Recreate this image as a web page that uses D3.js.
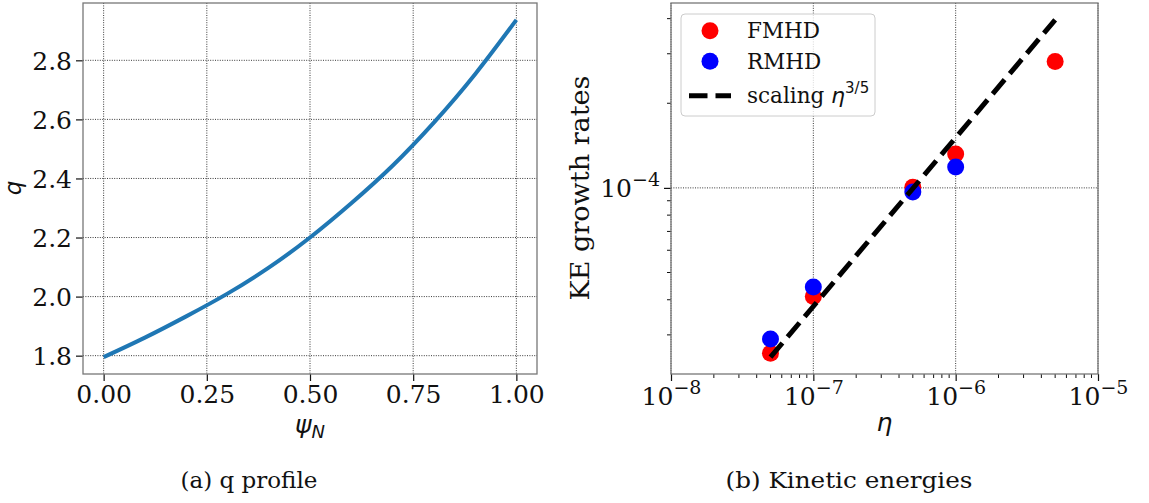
<!DOCTYPE html>
<html><head><meta charset="utf-8">
<script src="https://cdn.jsdelivr.net/npm/d3@7"></script>
<style>
body{margin:0;background:#fff}
svg text{font-family:'DejaVu Serif',serif;fill:#111}
.math{font-family:'DejaVu Sans',sans-serif;font-style:italic}
</style>
</head><body>
<svg id="c" width="1149" height="503"></svg>
<script>
// ---------- data ----------
const psiN = [0, 0.1, 0.2, 0.3, 0.4, 0.5, 0.6, 0.7, 0.8, 0.9, 1.0];
const qProfile = [1.795, 1.861, 1.933, 2.010, 2.098, 2.200, 2.316, 2.443, 2.589, 2.753, 2.937];
const psiTicks = [0, 0.25, 0.5, 0.75, 1.0];
const qTicks = [1.8, 2.0, 2.2, 2.4, 2.6, 2.8];

const etaF = [5e-8, 1e-7, 5e-7, 1e-6, 5e-6];
const fmhd = [2.58e-5, 4.11e-5, 1.006e-4, 1.319e-4, 2.818e-4];
const etaR = [5e-8, 1e-7, 5e-7, 1e-6];
const rmhd = [2.90e-5, 4.44e-5, 9.67e-5, 1.186e-4];
const etaScaling = [5e-8, 5e-6];
const scaling = [2.50e-5, 3.96e-4];
const etaTicks = [1e-8, 1e-7, 1e-6, 1e-5];
const etaTickExp = ["8", "7", "6", "5"];
const keTicks = [1e-4];
const keTickExp = ["4"];
const legendLabels = ["FMHD", "RMHD", "scaling "];
const captions = ["(a) q profile", "(b) Kinetic energies"];

// ---------- layout ----------
const svg = d3.select("#c");
const TOP = 3, BOT = 374;
const TICK = 7, MINOR = 4;
const spineCol = "#777";
const TFS = "25px";

function pad(ext, f){ const d = (ext[1]-ext[0])*f; return [ext[0]-d, ext[1]+d]; }

// ======== Panel (a) ========
const xa = d3.scaleLinear().domain(pad(d3.extent(psiN), 0.05)).range([83, 537]);
const ya = d3.scaleLinear().domain(pad(d3.extent(qProfile), 0.05)).range([BOT, TOP]);
const ga = svg.append("g");

ga.selectAll(".gx").data(psiTicks).join("line")
  .attr("x1", d=>xa(d)).attr("x2", d=>xa(d)).attr("y1", TOP).attr("y2", BOT)
  .attr("stroke", "#222").attr("stroke-width", 0.9).attr("stroke-dasharray", "1,1.4");
ga.selectAll(".gy").data(qTicks).join("line")
  .attr("x1", 83).attr("x2", 537).attr("y1", d=>ya(d)).attr("y2", d=>ya(d))
  .attr("stroke", "#222").attr("stroke-width", 0.9).attr("stroke-dasharray", "1,1.4");

ga.append("path").datum(psiN.map((p,i)=>[p, qProfile[i]]))
  .attr("fill", "none").attr("stroke", "#1f77b4").attr("stroke-width", 4)
  .attr("d", d3.line().x(d=>xa(d[0])).y(d=>ya(d[1])).curve(d3.curveNatural));

const axA = d3.axisBottom(xa).tickValues(psiTicks).tickSize(TICK).tickPadding(4).tickFormat(d3.format(".2f"));
const gAx = ga.append("g").attr("transform", `translate(0,${BOT})`).call(axA);
const ayA = d3.axisLeft(ya).tickValues(qTicks).tickSize(TICK).tickPadding(4).tickFormat(d3.format(".1f"));
const gAy = ga.append("g").attr("transform", `translate(83,0)`).call(ayA);
[gAx, gAy].forEach(g=>{
  g.select(".domain").remove();
  g.selectAll(".tick line").attr("stroke", "#111").attr("stroke-width", 1.2);
  g.selectAll(".tick text").style("font-family", "'DejaVu Serif'").style("font-size", TFS).attr("fill", "#111");
});
gAx.selectAll(".tick text").attr("dy", "0.71em");
gAy.selectAll(".tick text").attr("dy", "0.36em");
ga.append("rect").attr("x", 83).attr("y", TOP).attr("width", 454).attr("height", BOT-TOP)
  .attr("fill", "none").attr("stroke", spineCol).attr("stroke-width", 1.3);

ga.append("text").attr("class", "math").attr("transform", "translate(21,188) rotate(-90)")
  .attr("text-anchor", "middle").style("font-size", "23px").text("q");
const lpsi = ga.append("text").attr("class", "math").attr("x", 310).attr("y", 433)
  .attr("text-anchor", "middle").style("font-size", "25px");
lpsi.append("tspan").text("ψ");
lpsi.append("tspan").attr("dy", 5).style("font-size", "18px").text("N");

// ======== Panel (b) ========
const xb = d3.scaleLog().domain([etaTicks[0], etaTicks[etaTicks.length-1]]).range([671, 1098]);
const allY = fmhd.concat(rmhd, scaling).map(Math.log10);
const ylog = pad(d3.extent(allY), 0.05);
const yb = d3.scaleLog().domain([Math.pow(10, ylog[0]), Math.pow(10, ylog[1])]).range([BOT, TOP]);
const gb = svg.append("g");

gb.selectAll(".gx").data(etaTicks).join("line")
  .attr("x1", d=>xb(d)).attr("x2", d=>xb(d)).attr("y1", TOP).attr("y2", BOT)
  .attr("stroke", "#222").attr("stroke-width", 0.9).attr("stroke-dasharray", "1,1.4");
gb.selectAll(".gy").data(keTicks).join("line")
  .attr("x1", 671).attr("x2", 1098).attr("y1", d=>yb(d)).attr("y2", d=>yb(d))
  .attr("stroke", "#222").attr("stroke-width", 0.9).attr("stroke-dasharray", "1,1.4");

gb.selectAll(".f").data(etaF.map((e,i)=>[e, fmhd[i]])).join("circle")
  .attr("cx", d=>xb(d[0])).attr("cy", d=>yb(d[1])).attr("r", 8.5).attr("fill", "#ff0000");
gb.selectAll(".r").data(etaR.map((e,i)=>[e, rmhd[i]])).join("circle")
  .attr("cx", d=>xb(d[0])).attr("cy", d=>yb(d[1])).attr("r", 8.5).attr("fill", "#0000ff");
gb.append("path").datum(etaScaling.map((e,i)=>[e, scaling[i]]))
  .attr("fill", "none").attr("stroke", "#000").attr("stroke-width", 5)
  .attr("stroke-dasharray", "18.5,8")
  .attr("d", d3.line().x(d=>xb(d[0])).y(d=>yb(d[1])));

const minorX = [];
etaTicks.slice(0,-1).forEach(t=>{ for(let k=2;k<=9;k++) minorX.push(t*k); });
gb.selectAll(".mx").data(minorX).join("line")
  .attr("x1", d=>xb(d)).attr("x2", d=>xb(d)).attr("y1", BOT).attr("y2", BOT+MINOR)
  .attr("stroke", "#111").attr("stroke-width", 1);
const minorY = [];
[1e-5, 1e-4].forEach(t=>{ for(let k=2;k<=9;k++){ const v=t*k; if(v>yb.domain()[0] && v<yb.domain()[1]) minorY.push(v);} });
gb.selectAll(".my").data(minorY).join("line")
  .attr("x1", 671-MINOR).attr("x2", 671).attr("y1", d=>yb(d)).attr("y2", d=>yb(d))
  .attr("stroke", "#111").attr("stroke-width", 1);

const axB = d3.axisBottom(xb).tickValues(etaTicks).tickSize(TICK).tickFormat("");
const gBx = gb.append("g").attr("transform", `translate(0,${BOT})`).call(axB);
const ayB = d3.axisLeft(yb).tickValues(keTicks).tickSize(TICK).tickFormat("");
const gBy = gb.append("g").attr("transform", `translate(671,0)`).call(ayB);
[gBx, gBy].forEach(g=>{
  g.select(".domain").remove();
  g.selectAll(".tick line").attr("stroke", "#111").attr("stroke-width", 1.2);
});
gBx.selectAll(".tick").append("text").attr("y", 405).attr("transform", `translate(0,${-BOT})`)
  .attr("text-anchor", "middle").style("font-size", TFS).attr("fill", "#111")
  .each(function(d,i){
    const t = d3.select(this);
    t.append("tspan").text("10");
    t.append("tspan").attr("dy", -11).style("font-size", "19px").text("\u2212" + etaTickExp[i]);
  });
gBy.selectAll(".tick").append("text").attr("x", -11).attr("y", 9)
  .attr("text-anchor", "end").style("font-size", TFS).attr("fill", "#111")
  .each(function(d,i){
    const t = d3.select(this);
    t.append("tspan").text("10");
    t.append("tspan").attr("dy", -11).style("font-size", "19px").text("\u2212" + keTickExp[i]);
  });
gb.append("rect").attr("x", 671).attr("y", TOP).attr("width", 427).attr("height", BOT-TOP)
  .attr("fill", "none").attr("stroke", spineCol).attr("stroke-width", 1.3);

gb.append("text").attr("transform", "translate(589,188) rotate(-90)").attr("text-anchor", "middle")
  .attr("textLength", 225).attr("lengthAdjust", "spacingAndGlyphs")
  .style("font-size", "26px").text("KE growth rates");
gb.append("text").attr("class", "math").attr("x", 884.5).attr("y", 431).attr("text-anchor", "middle")
  .style("font-size", "25px").text("η");

// legend
const lg = gb.append("g");
lg.append("rect").attr("x", 681).attr("y", 14).attr("width", 194).attr("height", 102).attr("rx", 4)
  .attr("fill", "#fff").attr("fill-opacity", 0.8).attr("stroke", "#ccc").attr("stroke-width", 1);
const rowsY = [30.7, 61.3, 95.7];
lg.append("circle").attr("cx", 710).attr("cy", rowsY[0]).attr("r", 8.5).attr("fill", "#ff0000");
lg.append("circle").attr("cx", 710).attr("cy", rowsY[1]).attr("r", 8.5).attr("fill", "#0000ff");
lg.append("line").attr("x1", 689).attr("x2", 731).attr("y1", rowsY[2]).attr("y2", rowsY[2])
  .attr("stroke", "#000").attr("stroke-width", 5).attr("stroke-dasharray", "18.5,8");
legendLabels.forEach((lab,i)=>{
  const t = lg.append("text").attr("x", 747).attr("y", rowsY[i]+7.5).style("font-size", "21.5px").text(lab);
  if(i===2){
    t.append("tspan").attr("class", "math").style("font-size", "22px").text("η");
    t.append("tspan").attr("dy", -10).style("font-family", "'DejaVu Sans'").style("font-size", "15px").text("3/5");
  }
});

// captions
svg.append("text").attr("x", 249).attr("y", 488).attr("text-anchor", "middle").style("font-size", "23px").text(captions[0]);
svg.append("text").attr("x", 849).attr("y", 488).attr("text-anchor", "middle")
  .attr("textLength", 247).attr("lengthAdjust", "spacingAndGlyphs").style("font-size", "23px").text(captions[1]);
</script>
</body></html>
